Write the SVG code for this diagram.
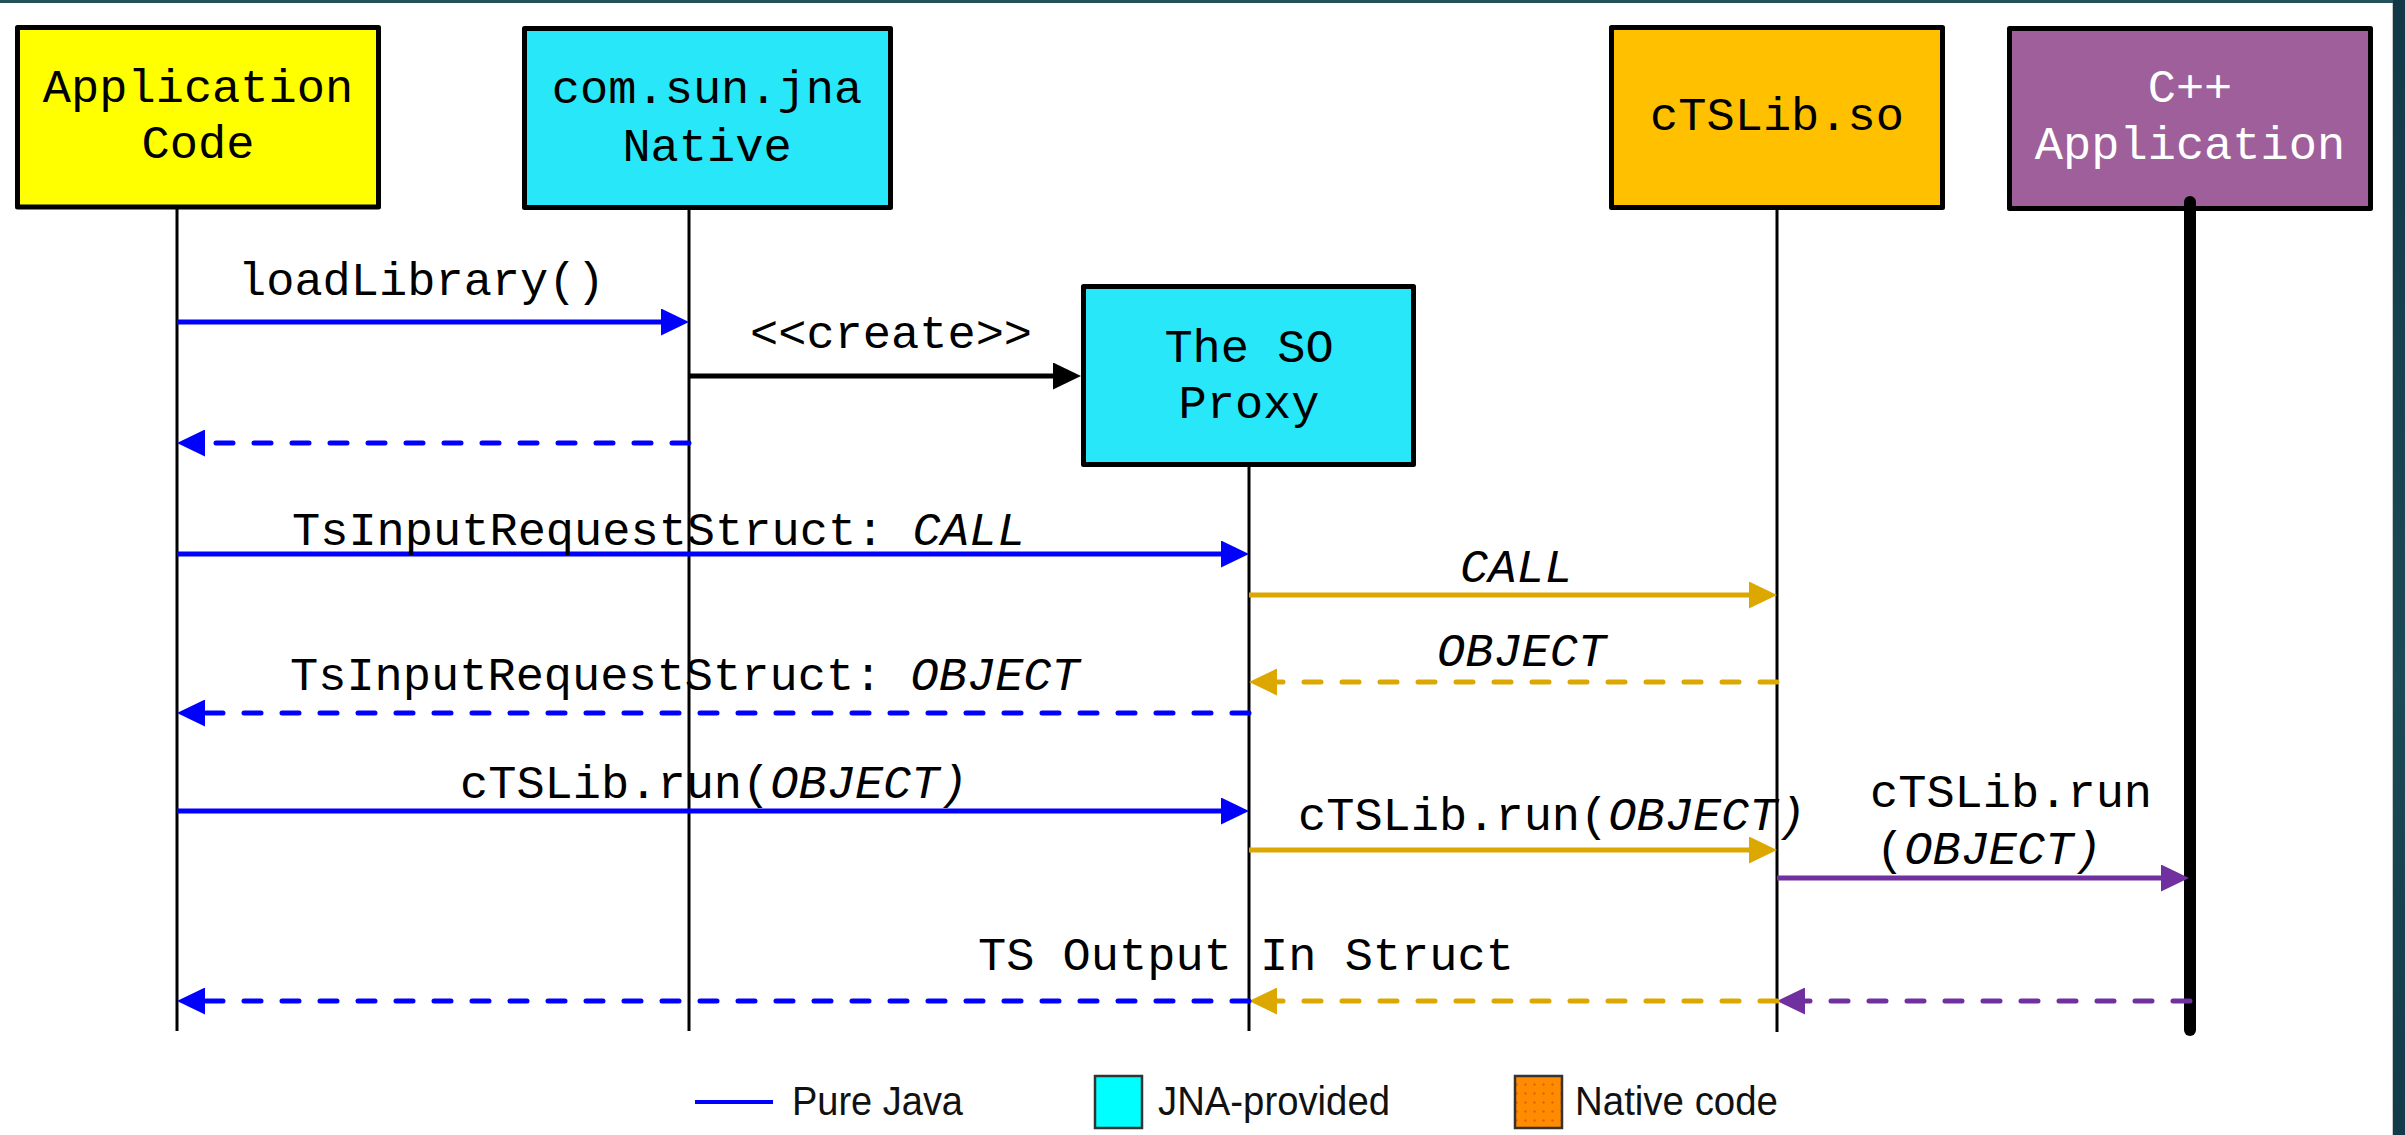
<svg xmlns="http://www.w3.org/2000/svg" width="2405" height="1135" viewBox="0 0 2405 1135">
  <style>
    .box { stroke: #000; stroke-width: 5; stroke-linejoin: round; }
    .lbl { font-family: "Liberation Mono", "Courier New", monospace; font-size: 47px; fill: #000; }
    .node-lbl { font-family: "Liberation Mono", "Courier New", monospace; font-size: 47px; text-anchor: middle; fill: #000; }
    .life { stroke: #000; stroke-width: 3; fill: none; }
    .msg { fill: none; stroke-width: 5; }
    .dash { stroke-dasharray: 17 21; stroke-linecap: round; }
    .blue { stroke: #0000FF; }
    .gold { stroke: #DCA800; }
    .purple { stroke: #7030A0; }
    .black { stroke: #000; }
    .legend { font-family: "Liberation Sans", Arial, sans-serif; font-size: 40px; fill: #111; }
    i, .it { font-style: italic; }
  </style>
  <defs>
    <marker id="ah-blue" markerUnits="userSpaceOnUse" markerWidth="28" markerHeight="27" refX="18" refY="13.5" orient="auto">
      <path d="M0,0 L28,13.5 L0,27 z" fill="#0000FF"/>
    </marker>
    <marker id="ah-gold" markerUnits="userSpaceOnUse" markerWidth="28" markerHeight="27" refX="18" refY="13.5" orient="auto">
      <path d="M0,0 L28,13.5 L0,27 z" fill="#DCA800"/>
    </marker>
    <marker id="ah-purple" markerUnits="userSpaceOnUse" markerWidth="28" markerHeight="27" refX="18" refY="13.5" orient="auto">
      <path d="M0,0 L28,13.5 L0,27 z" fill="#7030A0"/>
    </marker>
    <marker id="ah-black" markerUnits="userSpaceOnUse" markerWidth="28" markerHeight="27" refX="18" refY="13.5" orient="auto">
      <path d="M0,0 L28,13.5 L0,27 z" fill="#000"/>
    </marker>
    <pattern id="dots" width="9" height="9" patternUnits="userSpaceOnUse">
      <rect width="9" height="9" fill="#FF8C00"/>
      <circle cx="4.5" cy="4.5" r="1.2" fill="#E8600A"/>
    </pattern>
    <linearGradient id="edge" x1="0" y1="0" x2="0" y2="1">
      <stop offset="0" stop-color="#123848"/>
      <stop offset="0.6" stop-color="#1a4a56"/>
      <stop offset="1" stop-color="#123a4a"/>
    </linearGradient>
  </defs>

  <!-- page -->
  <rect x="0" y="0" width="2405" height="1135" fill="#fff"/>
  <rect x="0" y="0" width="2405" height="3" fill="#24505a"/>
  <rect x="2393" y="0" width="12" height="1135" fill="url(#edge)"/>
  <line x1="2392.5" y1="3" x2="2392.5" y2="1135" stroke="#c8c8c8" stroke-width="1"/>

  <!-- participants -->
  <g id="app-code">
    <line class="life" x1="177" y1="209" x2="177" y2="1031"/>
    <rect class="box" x="17.5" y="27.5" width="361" height="179.5" fill="#FFFF00"/>
    <text class="node-lbl" x="198" y="102">Application</text>
    <text class="node-lbl" x="198" y="158">Code</text>
  </g>

  <g id="jna-native">
    <line class="life" x1="689" y1="210" x2="689" y2="1031"/>
    <rect class="box" x="524.5" y="28.5" width="366" height="179" fill="#28E7F8"/>
    <text class="node-lbl" x="707" y="103">com.sun.jna</text>
    <text class="node-lbl" x="707" y="161">Native</text>
  </g>

  <g id="so-proxy">
    <line class="life" x1="1249" y1="467" x2="1249" y2="1031"/>
    <rect class="box" x="1083.5" y="286.5" width="330" height="178" fill="#28E7F8"/>
    <text class="node-lbl" x="1249" y="362">The SO</text>
    <text class="node-lbl" x="1249" y="418">Proxy</text>
  </g>

  <g id="ctslib-so">
    <line class="life" x1="1777" y1="210" x2="1777" y2="1032"/>
    <rect class="box" x="1611.5" y="27.5" width="331" height="180" fill="#FFC000"/>
    <text class="node-lbl" x="1777" y="130">cTSLib.so</text>
  </g>

  <g id="cpp-app">
    <rect class="box" x="2009.5" y="28.5" width="361" height="180" fill="#9E5F9A"/>
    <text class="node-lbl" x="2190" y="102" style="fill:#fff">C++</text>
    <text class="node-lbl" x="2190" y="159" style="fill:#fff">Application</text>
    <line x1="2190" y1="202" x2="2190" y2="1030" stroke="#000" stroke-width="12" stroke-linecap="round"/>
  </g>

  <!-- messages -->
  <g id="connectors">
    <path class="msg blue" d="M177,322 H679" marker-end="url(#ah-blue)"/>
    <path class="msg black" d="M689,376 H1071" marker-end="url(#ah-black)"/>
    <path class="msg blue dash" d="M689,443 H187" marker-end="url(#ah-blue)"/>
    <path class="msg blue" d="M177,554 H1239" marker-end="url(#ah-blue)"/>
    <path class="msg gold" d="M1249,595 H1767" marker-end="url(#ah-gold)"/>
    <path class="msg gold dash" d="M1777,682 H1259" marker-end="url(#ah-gold)"/>
    <path class="msg blue dash" d="M1249,713 H187" marker-end="url(#ah-blue)"/>
    <path class="msg blue" d="M177,811 H1239" marker-end="url(#ah-blue)"/>
    <path class="msg gold" d="M1249,850 H1767" marker-end="url(#ah-gold)"/>
    <path class="msg purple" d="M1777,878 H2179" marker-end="url(#ah-purple)"/>
    <path class="msg purple dash" d="M2190,1001 H1787" marker-end="url(#ah-purple)"/>
    <path class="msg gold dash" d="M1777,1001 H1259" marker-end="url(#ah-gold)"/>
    <path class="msg blue dash" d="M1249,1001 H187" marker-end="url(#ah-blue)"/>

    <text class="lbl" x="238" y="295">loadLibrary()</text>
    <text class="lbl" x="750" y="348">&lt;&lt;create&gt;&gt;</text>
    <text class="lbl" x="292" y="545">TsInputRequestStruct: <tspan class="it">CALL</tspan></text>
    <text class="lbl it" x="1460" y="582">CALL</text>
    <text class="lbl it" x="1437" y="666">OBJECT</text>
    <text class="lbl" x="290" y="690">TsInputRequestStruct: <tspan class="it">OBJECT</tspan></text>
    <text class="lbl" x="460" y="798">cTSLib.run(<tspan class="it">OBJECT)</tspan></text>
    <text class="lbl" x="1298" y="830">cTSLib.run(<tspan class="it">OBJECT)</tspan></text>
    <text class="lbl" x="1870" y="807">cTSLib.run</text>
    <text class="lbl" x="1876" y="864">(<tspan class="it">OBJECT)</tspan></text>
    <text class="lbl" x="978" y="970">TS Output In Struct</text>
  </g>

  <!-- key -->
  <g id="legend">
    <line x1="695" y1="1102" x2="773" y2="1102" stroke="#0000FF" stroke-width="4"/>
    <text class="legend" x="792" y="1115" textLength="171" lengthAdjust="spacingAndGlyphs">Pure Java</text>
    <rect x="1095" y="1076" width="47" height="52" fill="#00FFFF" stroke="#333" stroke-width="2.5"/>
    <text class="legend" x="1158" y="1115" textLength="232" lengthAdjust="spacingAndGlyphs">JNA-provided</text>
    <rect x="1515" y="1076" width="47" height="52" fill="url(#dots)" stroke="#333" stroke-width="2.5"/>
    <text class="legend" x="1575" y="1115" textLength="203" lengthAdjust="spacingAndGlyphs">Native code</text>
  </g>
</svg>
